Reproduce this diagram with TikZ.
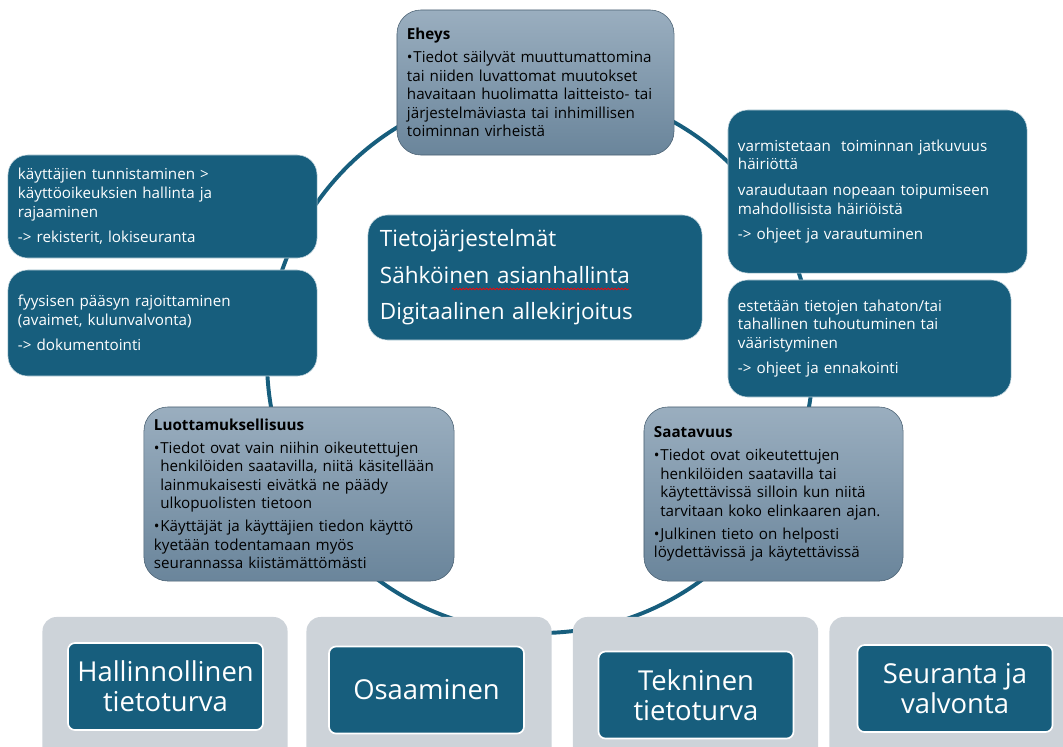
\documentclass[tikz,border=0pt]{standalone}
\usepackage{fontspec}
\setmainfont{Open Sans}
\usetikzlibrary{decorations.pathmorphing}

\definecolor{petrol}{RGB}{23,94,125}
\definecolor{shelfgray}{RGB}{205,211,217}
\definecolor{slatetop}{RGB}{154,174,191}
\definecolor{slatebot}{RGB}{106,133,155}
\definecolor{slateline}{RGB}{72,95,113}

\newcommand\bul{\par\vspace{3pt}\hangindent=0.42em\hangafter=1\noindent\makebox[0.42em][l]{\textbullet}}

\begin{document}
\begin{tikzpicture}[x=0.025cm,y=-0.025cm,
  ring/.style={petrol,line width=2.8pt},
  darkbox/.style={fill=petrol,draw=white!75!petrol,rounded corners=14pt,text=white,align=left,
    inner xsep=0.25cm,font=\fontsize{10.8}{13.2}\selectfont},
  slatebox/.style={top color=slatetop,bottom color=slatebot,draw=slateline,rounded corners=17pt,
    align=left,inner xsep=0.25cm,font=\fontsize{10.8}{13.2}\selectfont},
  shelf/.style={fill=shelfgray,rounded corners=10pt,minimum width=6.125cm,minimum height=4.075cm},
  pillar/.style={fill=petrol,draw=white,line width=1.2pt,rounded corners=5pt,text=white,align=center,
    minimum width=4.875cm,minimum height=2.175cm,font=\fontsize{19.5}{21.5}\selectfont},
  spellcheck/.style={red,line width=0.5pt,decorate,decoration={snake,amplitude=0.6pt,segment length=2.4pt}}]
  \useasboundingbox (0,0) rectangle (1063,746);
  \clip (0,0) rectangle (1063,746);

  % the ring runs behind every box
  \draw[ring] (540,360) circle [radius=273];

  \node[slatebox,text width=6.425cm,minimum height=3.625cm] (eheys) at (535.5,82.5)
    {\textbf{Eheys}\bul Tiedot säilyvät muuttumattomina\newline tai niiden luvattomat muutokset\newline
     havaitaan huolimatta laitteisto- tai\newline järjestelmäviasta tai inhimillisen\newline toiminnan virheistä};

  \node[darkbox,text width=7.225cm,minimum height=2.575cm] (tunnistus) at (162.5,206.5)
    {käyttäjien tunnistaminen >\\ käyttöoikeuksien hallinta ja\\ rajaaminen\\[5pt] -> rekisterit, lokiseuranta};
  \node[darkbox,text width=7.225cm,minimum height=2.65cm] (paasy) at (162.5,323)
    {fyysisen pääsyn rajoittaminen\\ (avaimet, kulunvalvonta)\\[5pt] -> dokumentointi};

  \node[darkbox,text width=7.75cm,minimum height=3.125cm,inner xsep=0.3cm,font=\fontsize{16}{26}\selectfont] (jarjestelmat) at (535,277.5)
    {Tietojärjestelmät\\ Sähköinen asianhallinta\\ Digitaalinen allekirjoitus};
  \draw[spellcheck] (452,289) -- (629,289);%under asianhallinta

  \node[darkbox,text width=6.975cm,minimum height=4.075cm] (jatkuvuus) at (877.5,191.5)
    {varmistetaan\ \ toiminnan jatkuvuus\\ häiriöttä\\[5pt] varaudutaan nopeaan toipumiseen\\
     mahdollisista häiriöistä\\[5pt] -> ohjeet ja varautuminen};
  \node[darkbox,text width=6.575cm,minimum height=2.925cm] (tuhoutuminen) at (869.5,338.5)
    {estetään tietojen tahaton/tai\\ tahallinen tuhoutuminen tai\\ vääristyminen\\[5pt] -> ohjeet ja ennakointi};

  \node[slatebox,text width=7.25cm,minimum height=4.35cm] (luottamus) at (299,494)
    {\textbf{Luottamuksellisuus}\bul Tiedot ovat vain niihin oikeutettujen\newline henkilöiden saatavilla, niitä käsitellään\newline
     lainmukaisesti eivätkä ne päädy\newline ulkopuolisten tietoon\bul Käyttäjät ja käyttäjien tiedon käyttö\newline
     kyetään todentamaan myös\newline seurannassa kiistämättömästi};
  \node[slatebox,text width=5.975cm,minimum height=4.35cm] (saatavuus) at (773.5,494)
    {\textbf{Saatavuus}\bul Tiedot ovat oikeutettujen\newline henkilöiden saatavilla tai\newline käytettävissä silloin kun niitä\newline
     tarvitaan koko elinkaaren ajan.\bul Julkinen tieto on helposti\newline löydettävissä ja käytettävissä};

  \foreach \sx [count=\i] in {165,429,695.5,952}
    \node[shelf] (shelf\i) at (\sx,698.5) {};

  \node[pillar] (hallinto) at (165.5,686.5) {Hallinnollinen\\tietoturva};
  \node[pillar] (osaaminen) at (426.5,690) {Osaaminen};
  \node[pillar] (tekninen) at (696,695) {Tekninen\\tietoturva};
  \node[pillar] (seuranta) at (955,688.5) {Seuranta ja\\valvonta};
\end{tikzpicture}
\end{document}
